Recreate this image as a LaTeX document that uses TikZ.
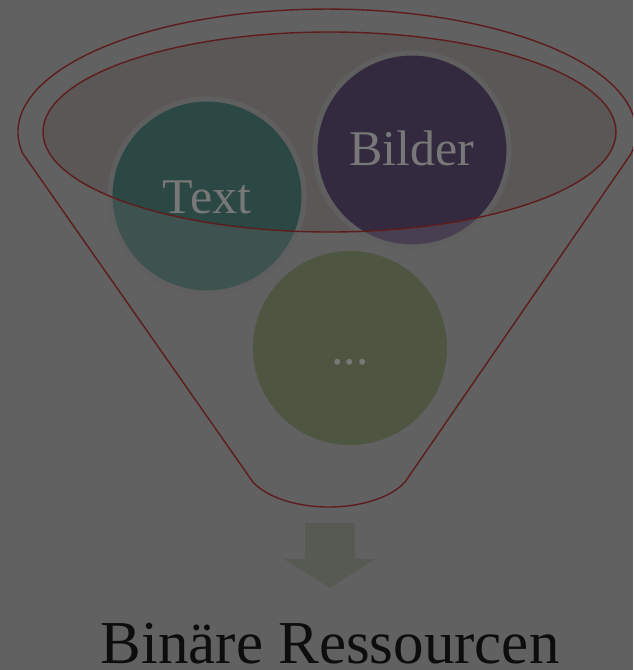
\documentclass[tikz,border=0pt]{standalone}
\usepackage{fontspec}
\setmainfont{Liberation Serif}
\usepackage{tikz}
\definecolor{FunBack}{HTML}{616161}
\definecolor{FunRim}{HTML}{5E1C1C}
\definecolor{FunTop}{HTML}{5B5757}
\definecolor{FunRing}{HTML}{5F5F5F}
\definecolor{FunLabel}{HTML}{787878}
\definecolor{FunArrow}{HTML}{565A52}
\definecolor{TextOut}{HTML}{3E5350}
\definecolor{TextIn}{HTML}{2B4844}
\definecolor{BildOut}{HTML}{483F51}
\definecolor{BildIn}{HTML}{332A40}
\definecolor{MoreFill}{HTML}{4E5540}

\begin{document}
\begin{tikzpicture}[x=1pt,y=-1pt,
  lab/.style={anchor=base,inner sep=0pt,text=FunLabel,font=\fontsize{50}{50}\selectfont},
  rim/.style={draw=FunRim,line width=1.4pt}]
  \fill[FunBack] (0,0) rectangle (633,670);
  \useasboundingbox (0,0) rectangle (633,670);
  \clip (0,0) rectangle (633,670);
  \fill[FunTop] (329.5,132) ellipse[x radius=286.5,y radius=100];
  % the three balls
  \fill[TextOut,draw=FunRing,line width=5pt] (207,196) circle[radius=97];
  \fill[BildOut,draw=FunRing,line width=5pt] (412,150) circle[radius=97];
  \fill[MoreFill] (350,348) circle[radius=97];
  \begin{scope}
    \clip (329.5,132) ellipse[x radius=286.5,y radius=100];
    \fill[TextIn,draw=FunRing,line width=5pt] (207,196) circle[radius=97];
    \fill[BildIn,draw=FunRing,line width=5pt] (412,150) circle[radius=97];
  \end{scope}
  % funnel
  \draw[rim] (329.5,132) ellipse[x radius=286.5,y radius=100];
  \draw[rim] (22.7,153.4) arc[start angle=170,end angle=370,x radius=309,y radius=123]
    -- (405,482) arc[start angle=25,end angle=155,x radius=83.9,y radius=43.3] -- cycle;
  \node[lab] (txt) at (207,213) {Text};
  \node[lab] (bild) at (412,165) {Bilder};
  \node[lab] (more) at (350,364) {...};
  % arrow and caption
  \fill[FunArrow] (305,523) -- (355,523) -- (355,559) -- (375,559) -- (330,588)
    -- (284,559) -- (305,559) -- cycle;
  \node[anchor=base,inner sep=0pt,text=black!95,font=\fontsize{61}{61}\selectfont] (res) at (330,663) {Binäre Ressourcen};
\end{tikzpicture}
\end{document}
